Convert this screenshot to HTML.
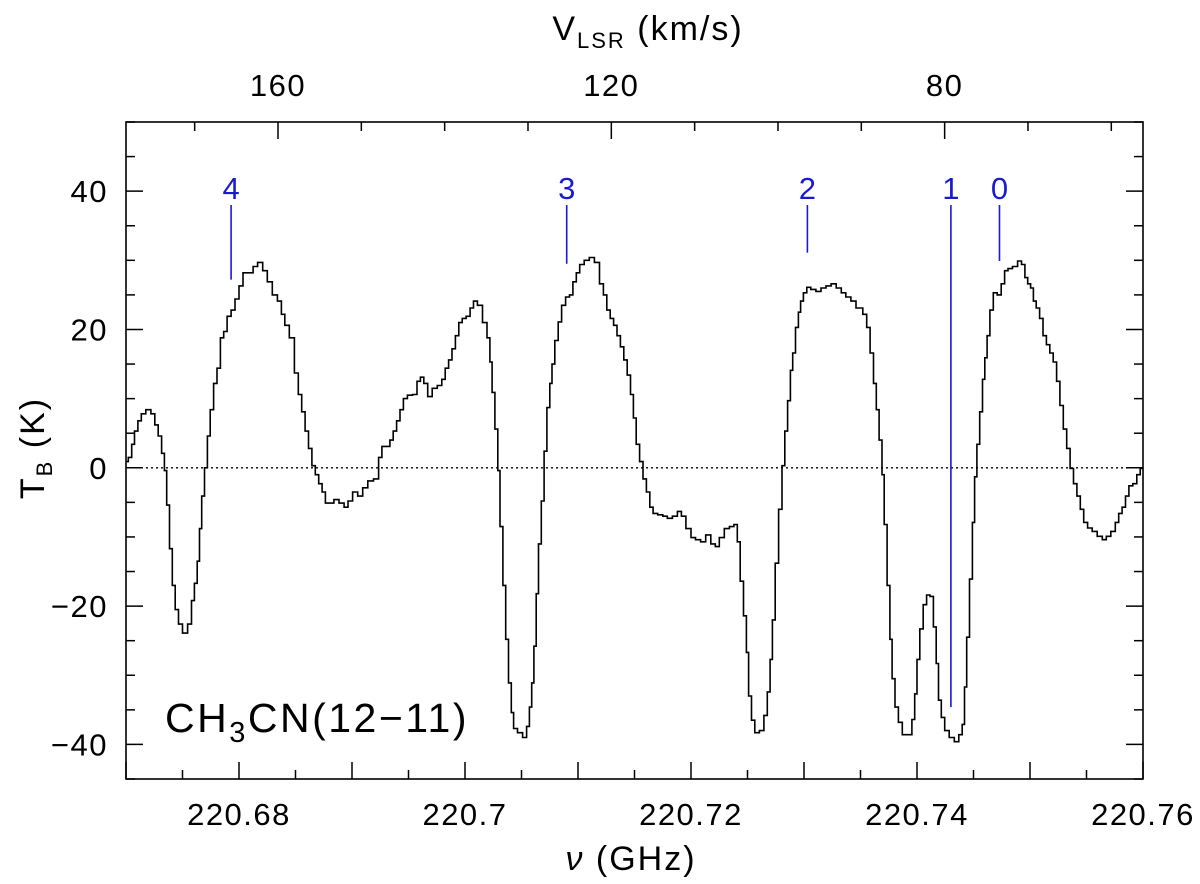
<!DOCTYPE html>
<html><head><meta charset="utf-8"><style>
html,body{margin:0;padding:0;background:#fff;}
svg{display:block;}
text{font-family:"Liberation Sans",sans-serif;fill:#000;}
</style></head><body>
<svg id="chart" width="1200" height="884" viewBox="0 0 1200 884" xmlns="http://www.w3.org/2000/svg">
<rect x="0" y="0" width="1200" height="884" fill="#fff"/>
<g id="plot"></g>
</svg>
<script>
const freqGHz = [220.6700,220.6704,220.6706,220.6709,220.6712,220.6715,220.6720,220.6724,220.6727,220.6730,220.6733,220.6735,220.6737,220.6740,220.6742,220.6745,220.6748,220.6752,220.6757,220.6759,220.6762,220.6764,220.6766,220.6768,220.6771,220.6773,220.6776,220.6779,220.6782,220.6785,220.6788,220.6791,220.6795,220.6798,220.6802,220.6805,220.6811,220.6814,220.6819,220.6823,220.6827,220.6832,220.6836,220.6839,220.6842,220.6847,220.6851,220.6854,220.6857,220.6860,220.6863,220.6866,220.6869,220.6872,220.6875,220.6878,220.6882,220.6886,220.6891,220.6895,220.6898,220.6903,220.6907,220.6912,220.6916,220.6922,220.6925,220.6928,220.6932,220.6935,220.6938,220.6941,220.6944,220.6947,220.6951,220.6956,220.6959,220.6962,220.6965,220.6969,220.6973,220.6978,220.6981,220.6984,220.6987,220.6990,220.6993,220.6996,220.6999,220.7003,220.7006,220.7009,220.7013,220.7018,220.7021,220.7023,220.7025,220.7028,220.7030,
220.7032,220.7035,220.7037,220.7040,220.7042,220.7044,220.7049,220.7053,220.7056,220.7058,220.7060,220.7062,220.7064,220.7066,220.7069,220.7071,220.7074,220.7076,220.7078,220.7081,220.7084,220.7087,220.7091,220.7094,220.7097,220.7100,220.7103,220.7108,220.7112,220.7117,220.7121,220.7124,220.7127,220.7130,220.7133,220.7136,220.7139,220.7142,220.7145,220.7148,220.7150,220.7153,220.7156,220.7159,220.7162,220.7165,220.7168,220.7173,220.7177,220.7181,220.7186,220.7190,220.7193,220.7198,220.7202,220.7206,220.7211,220.7215,220.7220,220.7223,220.7227,220.7232,220.7236,220.7240,220.7242,220.7245,220.7248,220.7250,220.7252,220.7255,220.7258,220.7263,220.7266,220.7269,220.7271,220.7273,220.7276,220.7279,220.7282,220.7284,220.7287,220.7289,220.7291,220.7294,220.7296,220.7298,220.7301,220.7304,220.7308,220.7313,220.7317,220.7322,220.7326,220.7331,220.7335,220.7339,220.7344,220.7348,
220.7350,220.7354,220.7357,220.7360,220.7363,220.7365,220.7368,220.7370,220.7372,220.7375,220.7377,220.7379,220.7382,220.7385,220.7389,220.7394,220.7397,220.7399,220.7401,220.7404,220.7407,220.7410,220.7413,220.7416,220.7418,220.7420,220.7423,220.7426,220.7431,220.7435,220.7439,220.7441,220.7443,220.7445,220.7448,220.7450,220.7452,220.7454,220.7457,220.7459,220.7461,220.7463,220.7466,220.7469,220.7473,220.7476,220.7479,220.7482,220.7487,220.7491,220.7494,220.7497,220.7499,220.7502,220.7504,220.7507,220.7510,220.7513,220.7516,220.7519,220.7522,220.7525,220.7528,220.7531,220.7534,220.7537,220.7540,220.7543,220.7546,220.7549,220.7553,220.7557,220.7562,220.7566,220.7569,220.7574,220.7577,220.7580,220.7583,220.7586,220.7589,220.7593,220.7596,220.7599];
const tempK = [0.9,1.5,3.4,5.3,6.8,7.8,8.4,7.8,6.2,4.6,2.1,-0.4,-5.4,-11.7,-17,-20.5,-22.6,-23.9,-22.6,-19.2,-16.7,-13.5,-8.8,-4.1,0,4.6,8.4,12.2,14.4,18.8,19.7,21.9,22.8,24.4,26.3,28.2,28.2,29.1,29.7,28.5,26.9,25.0,24.1,22.2,20.6,18.8,13.7,10.6,8.1,5.3,2.8,0.3,-1.0,-2.3,-3.5,-5.1,-5.1,-4.6,-5.1,-5.7,-4.8,-3.5,-4.1,-2.9,-1.9,-1.6,1.5,3.1,3.1,4.0,5.3,6.8,8.4,10,10.5,10.6,12.5,13.1,12.2,10.3,11.5,11.9,12.8,14.4,15.6,17.2,19.1,21.0,21.6,21.9,23.1,24.1,23.5,21.0,18.8,15.3,10.9,5.6,-0.4,
-8.5,-17,-24.8,-31.1,-35.4,-37.7,-38.3,-39,-37.4,-34.6,-31.1,-25.8,-18.2,-11,-4.8,2.4,8.7,12.2,15,18.4,21.1,23.5,24.7,25,26.9,28.2,29.4,30,30.4,29.7,26.6,25,22.8,21.6,20.6,19.1,17.5,15.6,13.4,10.6,7.2,3.4,0.9,-1.6,-3.5,-5.7,-6.6,-6.8,-7,-7.3,-7,-6.3,-7,-8.8,-10.1,-10.4,-10.7,-9.7,-11,-11.4,-10.1,-8.8,-8.5,-8.2,-10.7,-16.4,-21.4,-26.7,-33,-36.5,-38.3,-38,-35.8,-32.4,-27.7,-22,-13.8,-6,0.3,5.3,9.7,14.1,16.6,20.3,22.5,24.1,25.3,26.1,25.8,25.5,26.0,26.3,26.6,26,25.3,24.7,24.1,23.1,
23.1,22.2,20.3,16.6,12.2,8.4,4.0,-1,-8.2,-17,-24.8,-30.5,-34.6,-36.8,-38.6,-38.6,-36.4,-32.7,-27.7,-23.3,-19.8,-18.4,-18.6,-23,-28.3,-33.6,-36.1,-38,-39,-39.6,-38.6,-37.1,-31.7,-24.5,-16.1,-7.9,-1.3,3.4,8.1,12.8,15.9,19.1,22.8,25.3,25,26.6,28.5,28.8,29.1,29.9,29.4,27.5,26.6,26,24.1,23.1,21.6,19.1,17.8,16.6,15.3,12.5,9,5.6,2.8,-0.1,-2.3,-4.1,-6,-7.9,-8.7,-9.2,-9.9,-10.4,-9.9,-9.2,-7.9,-6.6,-5.7,-4.1,-2.6,-2.3,-1,-0.1];
const markerLabels = ["4","3","2","1","0"];
const markerFreq = [220.6793,220.7090,220.7303,220.7430,220.7473];
const markerTop = [38,38,38,38,38];
const markerBottom = [27.2,29.5,31.1,-34.6,29.9];
const xTickLabels = [220.68,220.70,220.72,220.74,220.76];
const yTickLabels = [40,20,0,-20,-40];
const vTickLabels = [160,120,80];

const L=126,R=1143,T=122,B=779;
const fMin=220.67,fMax=220.76,yMin=-45,yMax=50;
const fx=f=>L+(f-fMin)/(fMax-fMin)*(R-L);
const ty=t=>T+(yMax-t)/(yMax-yMin)*(B-T);
const vpx=v=>278+(160-v)*8.333;
const NS="http://www.w3.org/2000/svg";
const g=document.getElementById('plot');
function mk(tag,attrs,parent){const e=document.createElementNS(NS,tag);for(const k in attrs)e.setAttribute(k,attrs[k]);(parent||g).appendChild(e);return e;}

const zl=mk('line',{x1:L,x2:R,y1:ty(0),y2:ty(0),stroke:'#000','stroke-width':1.3,'stroke-dasharray':'2,3'});



let d='';
for(let i=0;i<freqGHz.length;i++){
  const x=fx(freqGHz[i]),y=ty(tempK[i]);
  const xl=i===0?L:(fx(freqGHz[i-1])+x)/2;
  const xr=i===freqGHz.length-1?R:(x+fx(freqGHz[i+1]))/2;
  d+=(i===0?'M':'L')+xl.toFixed(1)+','+y.toFixed(1)+'L'+xr.toFixed(1)+','+y.toFixed(1);
}
const sp=mk('path',{d:d,fill:'none',stroke:'#000','stroke-width':1.6});



for(let i=0;i<markerLabels.length;i++){
  const x=fx(markerFreq[i]);
  const ln=mk('line',{x1:x,x2:x,y1:ty(markerTop[i]),y2:ty(markerBottom[i]),stroke:'#1a1ad0','stroke-width':1.6});
  
  
  const tx=mk('text',{x:x,y:199,'text-anchor':'middle','font-size':31,style:'fill:#1a1ad0'});
  tx.textContent=markerLabels[i];
  
  
}

const fr=mk('rect',{x:L,y:T,width:R-L,height:B-T,fill:'none',stroke:'#000','stroke-width':1.6});



for(let k=0;k<=18;k++){
  const f=fMin+k*0.005, x=fx(f), len=(k%2===0)?17:9;
  mk('line',{x1:x,x2:x,y1:B,y2:B-len,stroke:'#000','stroke-width':1.5});
}
xTickLabels.forEach(v=>{
  const t=mk('text',{x:fx(v),y:825,'text-anchor':'middle','font-size':31,'letter-spacing':1.5});
  t.textContent=String(v);
  
  
});
for(let v=60;v<=170;v+=10){
  const x=vpx(v); if(x<L||x>R) continue;
  const len=(v%40===0)?17:9;
  mk('line',{x1:x,x2:x,y1:T,y2:T+len,stroke:'#000','stroke-width':1.5});
}
vTickLabels.forEach(v=>{
  const t=mk('text',{x:vpx(v),y:96,'text-anchor':'middle','font-size':31,'letter-spacing':1.5});
  t.textContent=String(v);
  
  
});
for(let v=-45;v<=50;v+=5){
  const y=ty(v), len=(v%20===0)?17:9;
  mk('line',{x1:L,x2:L+len,y1:y,y2:y,stroke:'#000','stroke-width':1.5});
  mk('line',{x1:R,x2:R-len,y1:y,y2:y,stroke:'#000','stroke-width':1.5});
}
yTickLabels.forEach(v=>{
  const t=mk('text',{x:108,y:ty(v)+11,'text-anchor':'end','font-size':31,'letter-spacing':1.5});
  t.textContent=v<0?'\u2212'+Math.abs(v):String(v);
  
  
});
</script>
<svg style="position:absolute;left:0;top:0" width="1200" height="884" xmlns="http://www.w3.org/2000/svg">
<text x="631" y="870" text-anchor="middle" font-size="34" letter-spacing="2" style="font-family:'Liberation Sans',sans-serif"><tspan font-style="italic">ν</tspan> (GHz)</text>
<text x="648" y="40" text-anchor="middle" font-size="34" letter-spacing="2" style="font-family:'Liberation Sans',sans-serif">V<tspan font-size="22" dy="8">LSR</tspan><tspan dy="-8"> (km/s)</tspan></text>
<text transform="translate(44,448) rotate(-90)" text-anchor="middle" font-size="34" letter-spacing="2" style="font-family:'Liberation Sans',sans-serif">T<tspan font-size="22" dy="8">B</tspan><tspan dy="-8"> (K)</tspan></text>
<text x="165" y="732" font-size="41" letter-spacing="2.5" style="font-family:'Liberation Sans',sans-serif">CH<tspan font-size="29" dy="10">3</tspan><tspan dy="-10">CN(12−11)</tspan></text>
</svg>
</body></html>
